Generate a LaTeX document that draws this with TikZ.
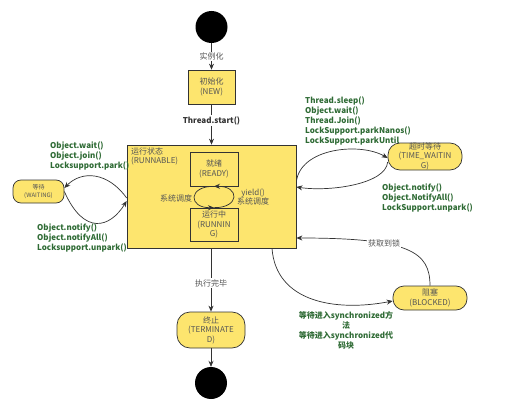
\documentclass[tikz,border=0pt]{standalone}
\usepackage{fontspec}
\setmainfont{Noto Sans CJK SC}
\usetikzlibrary{arrows.meta}
\definecolor{stateyellow}{HTML}{FDE56E}
\definecolor{greenlab}{HTML}{2F6B35}
\definecolor{graytext}{HTML}{555555}
\begin{document}
\begin{tikzpicture}[x=1pt,y=-1pt,
  statebox/.style={draw=black!80,fill=stateyellow,line width=0.7pt,inner sep=0pt,align=center,text=graytext,font=\fontsize{8}{9.5}\selectfont},
  roundbox/.style={statebox,rounded corners=11pt},
  dot/.style={circle,fill=black,minimum size=32pt,inner sep=0pt},
  flow/.style={draw=black!80,line width=0.7pt,-{Stealth[length=6pt,width=5pt]}},
  glab/.style={text=greenlab,font=\bfseries\fontsize{8}{10}\selectfont,align=left,inner sep=0pt},
  tlab/.style={text=graytext,font=\fontsize{8}{9.5}\selectfont,fill=white,inner sep=1pt}
]
\useasboundingbox (0,0) rectangle (512,412);
% nodes
\node[dot] (start) at (211.5,27) {};
\node[statebox,minimum width=47pt,minimum height=34pt] (new) at (211.5,87) {初始化\\(NEW)};
\node[statebox,minimum width=169pt,minimum height=103pt] (run) at (211.5,196.5) {};
\node[text=graytext,font=\fontsize{8}{9.5}\selectfont,align=left,anchor=north west,inner sep=0pt] (runlab) at (131,147.5) {运行状态\\(RUNNABLE)};
\node[statebox,minimum width=48pt,minimum height=34pt] (ready) at (214,169) {就绪\\(READY)};
\node[statebox,minimum width=48pt,minimum height=33pt] (running) at (214,224.5) {运行中\\(RUNNIN\\G)};
\node[roundbox,rounded corners=8pt,minimum width=51pt,minimum height=23pt,font=\fontsize{6}{7.5}\selectfont] (wait) at (38.5,191.5) {等待\\(WAITING)};
\node[roundbox,rounded corners=12pt,minimum width=74pt,minimum height=27pt] (tw) at (425,156.5) {};
\node[text=graytext,font=\fontsize{8}{9.5}\selectfont,align=center,inner sep=0pt] (twlab) at (425,156) {超时等待\\(TIME\_WAITIN\\G)};
\node[roundbox,rounded corners=11pt,minimum width=74pt,minimum height=24pt] (blk) at (430,298) {阻塞\\(BLOCKED)};
\node[roundbox,rounded corners=13pt,minimum width=68pt,minimum height=36pt] (term) at (211,330) {终止\\(TERMINATE\\D)};
\node[dot] (end) at (211,383) {};
% straight flows
\draw[flow] (start) -- node[tlab] {实例化} (new);
\draw[flow] (new) -- node[fill=white,inner sep=1pt,text=black!80,font=\bfseries\fontsize{8}{9.5}\selectfont,pos=0.4] {Thread.start()} (run.north -| new);
\draw[flow] (run.south -| term) -- node[tlab,pos=0.55] {执行完毕} (term);
\draw[flow] (term) -- (end);
% ready/running loop
\draw[flow] (ready.south) .. controls (188,186) and (188,208) .. (running.north);
\draw[flow] (running.north) .. controls (240,208) and (240,186) .. (ready.south);
\node[text=graytext,font=\fontsize{8}{9.5}\selectfont,inner sep=0pt] (sys1) at (176,198) {系统调度};
\node[text=graytext,font=\fontsize{8}{9.5}\selectfont,align=center,inner sep=0pt] (sys2) at (253,197) {yield()\\系统调度};
% waiting
\draw[flow] ([yshift=-1.5pt]run.west) .. controls (108,172) and (82,170) .. ([yshift=3.5pt]wait.east);
\draw[flow] (wait.east) .. controls (84,236) and (110,228) .. ([yshift=-4.5pt]run.west);
\node[glab,anchor=north west] (wl1) at (50,141.5) {Object.wait()\\Object.join()\\Locksupport.park()};
\node[glab,anchor=north west] (wl2) at (37,223.5) {Object.notify()\\Object.notifyAll()\\Locksupport.unpark()};
% time waiting
\draw[flow] ([yshift=14.5pt]run.east) .. controls (300,148) and (360,142) .. ([yshift=-1.5pt]tw.west);
\draw[flow] ([yshift=-5.5pt]tw.west) .. controls (386,184) and (330,192) .. ([yshift=9.5pt]run.east);
\node[glab,anchor=north west] (tl1) at (305,96.5) {Thread.sleep()\\Object.wait()\\Thread.Join()\\LockSupport.parkNanos()\\LockSupport.parkUntil};
\node[glab,anchor=north west] (tl2) at (382,183.5) {Object.notify()\\Object.NotifyAll()\\LockSupport.unpark()};
% blocked
\draw[flow] ([xshift=60.5pt]run.south) .. controls (276,302) and (335,312) .. ([yshift=-3pt]blk.west);
\draw[flow] (blk.north) .. controls (430,252) and (410,238) .. ([yshift=-41.5pt]run.east);
\node[text=graytext,font=\fontsize{8}{9.5}\selectfont,inner sep=1pt,fill=white] (gl) at (384,243) {获取到锁};
\node[glab,align=center,anchor=north] (bl) at (346,311.5) {等待进入synchronized方\\法\\等待进入synchronized代\\码块};
\end{tikzpicture}
\end{document}
